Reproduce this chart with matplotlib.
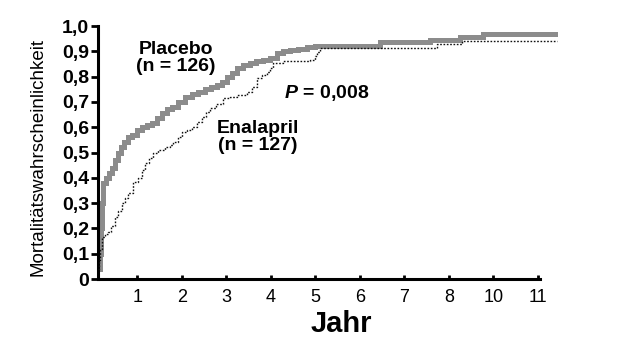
import matplotlib
matplotlib.use("Agg")
import matplotlib.pyplot as plt

# Tick positions (equally spaced) and their labels (9 is skipped in the original)
tick_pos = [1, 2, 3, 4, 5, 6, 7, 8, 9, 10]
tick_labels = ["1", "2", "3", "4", "5", "6", "7", "8", "10", "11"]
y_ticks = [0, 0.1, 0.2, 0.3, 0.4, 0.5, 0.6, 0.7, 0.8, 0.9, 1.0]
y_tick_labels = ["0", "0,1", "0,2", "0,3", "0,4", "0,5", "0,6", "0,7", "0,8", "0,9", "1,0"]

# Placebo (Kaplan-Meier, step curve)
placebo_t = [0.120, 0.165, 0.187, 0.210, 0.232, 0.300, 0.367, 0.434, 0.502, 0.569,
             0.636, 0.704, 0.794, 0.883, 0.996, 1.108, 1.220, 1.333, 1.445, 1.557,
             1.669, 1.781, 1.916, 2.073, 2.231, 2.365, 2.522, 2.657, 2.792, 2.904,
             3.016, 3.128, 3.241, 3.375, 3.533, 3.667, 3.824, 3.981, 4.139, 4.274,
             4.431, 4.610, 4.812, 4.992, 6.451, 7.574, 8.248, 8.764, 10.425]
placebo_v = [0.04, 0.10, 0.20, 0.30, 0.38, 0.40, 0.42, 0.44, 0.47, 0.50,
             0.52, 0.54, 0.56, 0.57, 0.59, 0.60, 0.61, 0.615, 0.635, 0.655,
             0.67, 0.68, 0.70, 0.72, 0.73, 0.74, 0.75, 0.76, 0.767, 0.78,
             0.80, 0.815, 0.834, 0.845, 0.854, 0.86, 0.866, 0.875, 0.893, 0.90,
             0.905, 0.91, 0.917, 0.922, 0.937, 0.945, 0.957, 0.970, 0.970]

# Enalapril
enalapril_t = [0.120, 0.142, 0.165, 0.210, 0.277, 0.345, 0.412, 0.502, 0.569, 0.659,
               0.726, 0.794, 0.906, 1.018, 1.108, 1.175, 1.265, 1.355, 1.467, 1.624,
               1.737, 1.804, 1.916, 2.006, 2.118, 2.230, 2.343, 2.455, 2.545, 2.635,
               2.769, 2.926, 3.084, 3.241, 3.465, 3.578, 3.690, 3.802, 3.914, 3.981,
               4.049, 4.274, 4.880, 4.992, 5.037, 5.104, 7.731, 8.292, 10.425]
enalapril_v = [0.04, 0.075, 0.12, 0.166, 0.176, 0.186, 0.21, 0.245, 0.27, 0.30,
               0.32, 0.34, 0.383, 0.40, 0.43, 0.46, 0.48, 0.50, 0.51, 0.52,
               0.53, 0.54, 0.56, 0.58, 0.59, 0.60, 0.62, 0.64, 0.66, 0.676,
               0.69, 0.715, 0.72, 0.727, 0.74, 0.76, 0.795, 0.805, 0.818, 0.835,
               0.854, 0.862, 0.866, 0.88, 0.897, 0.913, 0.929, 0.941, 0.941]

plt.rcParams['font.family'] = ['Liberation Sans', 'DejaVu Sans']
plt.rcParams['mathtext.fontset'] = 'custom'
plt.rcParams['mathtext.it'] = 'Liberation Sans:italic:bold'
plt.rcParams['mathtext.rm'] = 'Liberation Sans:bold'

fig = plt.figure(figsize=(6.24, 3.4), dpi=100)
ax = fig.add_axes([98/624, 1 - 279/340, 460/624, (279 - 26)/340])

xmin, xmax = 0.12, 10.45
ax.plot(placebo_t, placebo_v, drawstyle='steps-post', color='#8c8c8c', lw=3.6,
        solid_joinstyle='miter', zorder=2)
ax.plot(enalapril_t, enalapril_v, drawstyle='steps-post', color='#111111', lw=1.0,
        linestyle=(0, (1.2, 1.2)), zorder=3)

ax.set_xlim(xmin, xmax)
ax.set_ylim(0, 1.0)
ax.spines['top'].set_visible(False)
ax.spines['right'].set_visible(False)
ax.spines['left'].set_linewidth(2.2)
ax.spines['bottom'].set_linewidth(2.2)
ax.spines['bottom'].set_bounds(xmin, 10.05)
ax.spines['left'].set_bounds(0, 1.0)

ax.set_xticks(tick_pos)
ax.set_xticklabels(tick_labels, fontsize=13)
ax.tick_params(axis='x', direction='in', length=3, width=2, pad=7)
ax.set_yticks(y_ticks)
ax.set_yticklabels(y_tick_labels, fontsize=14, fontweight='bold')
ax.tick_params(axis='y', direction='out', length=5, width=2, pad=1.5)

fig.text(38/624, 1 - 157/340, "Mortalitätswahrscheinlichkeit", rotation=90,
         ha='center', va='center', fontsize=13.5)
fig.text(341/624, 1 - 324/340, "Jahr", ha='center', va='center', fontsize=21,
         fontweight='bold')

fig.text(176/624, 1 - 58/340, "Placebo\n(n = 126)", ha='center', va='center',
         fontsize=14, fontweight='bold', linespacing=0.95)
fig.text(258/624, 1 - 137/340, "Enalapril\n(n = 127)", ha='center', va='center',
         fontsize=14, fontweight='bold', linespacing=0.95)
fig.text(284/624, 1 - 93/340, "$P$ = 0,008", ha='left', va='center',
         fontsize=14, fontweight='bold')

fig.savefig("out.png", dpi=100)
